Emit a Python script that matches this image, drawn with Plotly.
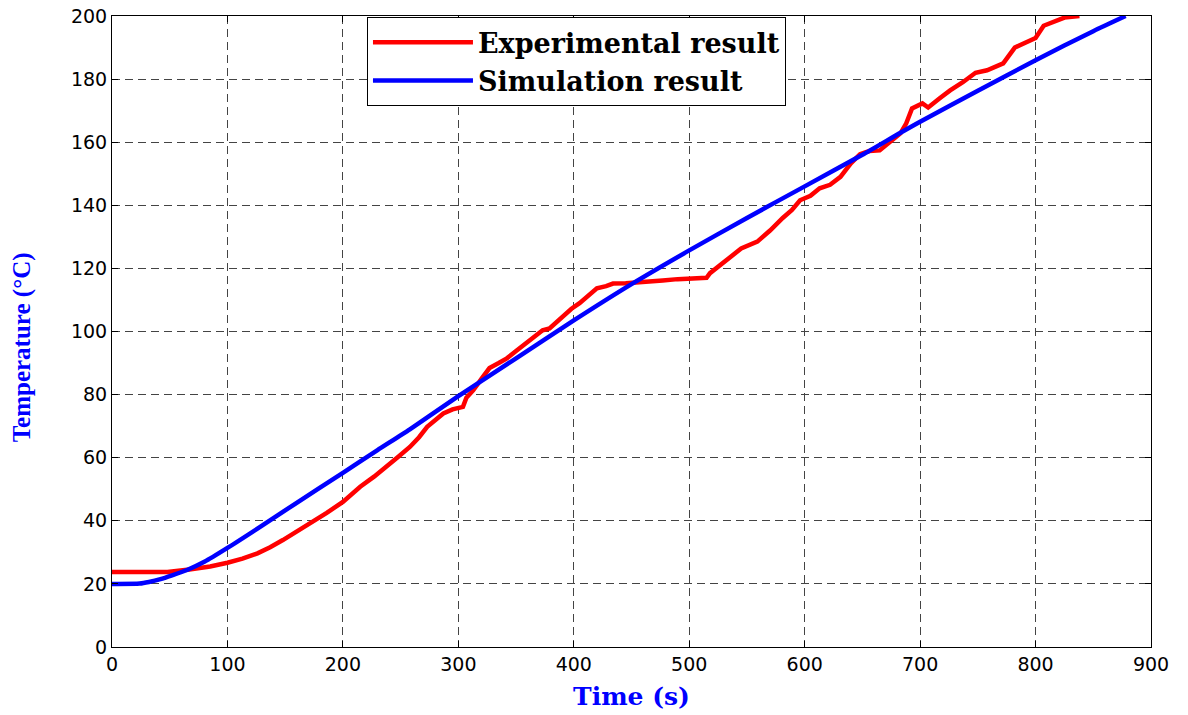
import plotly.graph_objects as go

# Experimental result (red)
exp_time = [0, 20, 48, 67, 85, 100, 113, 126, 137, 148, 160, 172, 186, 200, 215, 227, 238, 248,
            258, 266, 273, 280, 287, 295, 300, 304, 307, 313, 320, 327, 335, 342, 350, 359, 366,
            373, 379, 385, 391, 398, 405, 412, 420, 428, 434, 445, 455, 465, 477, 490, 500, 509,
            515, 518, 521, 528, 535, 545, 559, 570, 581, 589, 596, 605, 613, 622, 631, 640, 648,
            656, 665, 673, 683, 688, 693, 702, 707, 717, 726, 737, 748, 758, 767, 772, 782, 795,
            800, 807, 815, 825, 838]
exp_temp = [23.8, 23.8, 23.8, 24.6, 25.5, 26.7, 28.0, 29.7, 31.6, 33.9, 36.5, 39.2, 42.5, 46.0,
            50.8, 54.0, 57.1, 60.3, 63.4, 66.5, 69.8, 71.8, 74.0, 75.3, 75.7, 76.1, 79.0, 81.4,
            85.0, 88.4, 90.0, 91.5, 93.8, 96.3, 98.3, 100.4, 101.0, 103.0, 105.2, 107.2, 109.0,
            111.0, 113.7, 114.4, 115.2, 115.3, 115.5, 115.7, 116.2, 116.6, 116.8, 117.2, 117.0,
            118.5, 119.4, 121.5, 123.2, 126.3, 128.5, 132.0, 136.0, 138.5, 141.6, 143.0, 145.4,
            146.5, 149.0, 153.3, 156.2, 157.2, 157.4, 160.0, 162.8, 166.0, 170.7, 172.3, 171.0,
            173.9, 176.4, 179.0, 182.0, 182.8, 184.0, 185.0, 190.0, 192.0, 193.0, 196.9, 198.0,
            199.5, 200.0]

# Simulation result (blue)
sim_time = [0, 24, 32, 42, 52, 65, 80, 100, 128, 157, 200, 230, 258, 300, 350, 400, 450, 500,
            550, 600, 650, 683, 700, 750, 800, 850, 878]
sim_temp = [20.0, 20.1, 20.6, 21.5, 22.7, 24.4, 27.0, 31.4, 38.0, 45.0, 55.2, 62.4, 69.0, 79.5,
            91.5, 103.5, 115.0, 125.7, 136.0, 146.0, 156.0, 163.0, 166.5, 176.3, 186.0, 195.2,
            200.0]

x_ticks = [0, 100, 200, 300, 400, 500, 600, 700, 800, 900]
y_ticks = [0, 20, 40, 60, 80, 100, 120, 140, 160, 180, 200]

fig = go.Figure()
fig.add_trace(go.Scatter(x=exp_time, y=exp_temp, mode="lines", name="Experimental result",
                         line=dict(color="#ff0000", width=4.5)))
fig.add_trace(go.Scatter(x=sim_time, y=sim_temp, mode="lines", name="Simulation result",
                         line=dict(color="#0000ff", width=4.5, shape="spline", smoothing=0.6)))

axis_common = dict(
    showline=True, linecolor="black", linewidth=1, mirror="ticks",
    ticks="inside", ticklen=6, tickcolor="black",
    showgrid=True, gridcolor="#444444", griddash="8px,5px", gridwidth=1,
    zeroline=False, automargin=False,
    tickfont=dict(family="DejaVu Sans, sans-serif", size=19, color="black"),
)

fig.update_xaxes(range=[0, 900], tickvals=x_ticks, **axis_common,
                 title=dict(text="Time (s)", standoff=13,
                            font=dict(family="DejaVu Serif, serif", size=25, weight="bold",
                                      color="#0000ff")))
fig.update_yaxes(range=[0, 200], tickvals=y_ticks, **axis_common)

fig.add_annotation(
    text="Temperature (°C)", textangle=-90, showarrow=False,
    xref="paper", yref="paper", x=-0.0866, y=0.475, xanchor="center", yanchor="middle",
    font=dict(family="Liberation Serif, Times New Roman, serif", size=25, weight="bold",
              color="#0000ff"),
)

fig.update_layout(
    width=1188, height=715,
    margin=dict(l=112, r=37, t=16, b=68),
    plot_bgcolor="white", paper_bgcolor="white",
    showlegend=True,
    legend=dict(x=0.2454, y=0.998, xanchor="left", yanchor="top",
                bgcolor="white", bordercolor="black", borderwidth=1,
                font=dict(family="DejaVu Serif, serif", size=27,
                          color="black", weight="bold"),
                itemwidth=100, tracegroupgap=0),
)

# remove the browser's default 8px page margin so the figure sits at the page corner
fig.write_html("out.html", config={"displayModeBar": False},
               post_script="document.body.style.margin='0';document.body.style.padding='0';")
